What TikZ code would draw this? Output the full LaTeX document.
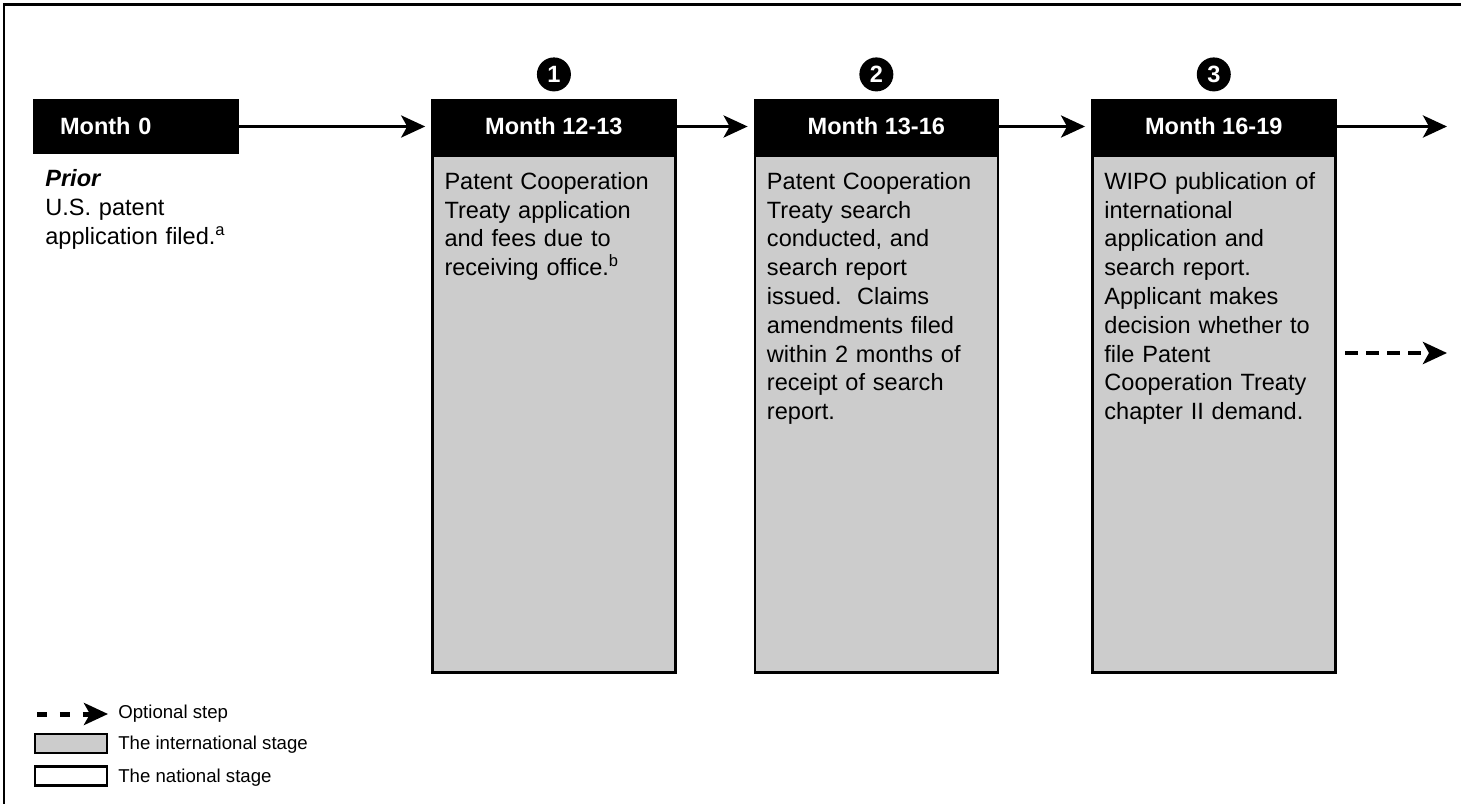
\documentclass[tikz,border=0pt]{standalone}
\usepackage{fontspec}
\setmainfont{Liberation Sans}
\usetikzlibrary{positioning,arrows.meta}
\definecolor{gra}{gray}{0.8}
\newcommand{\boxfont}{\fontsize{13.4}{16.4}\selectfont}
\newcommand{\legfont}{\fontsize{10.6}{12.7}\selectfont}

\tikzset{
  hdr/.style={draw, line width=0.05cm, fill=black, text=white, font=\boxfont\bfseries, minimum width=4.86cm, minimum height=1.06cm, inner sep=0},
  bodybox/.style={draw, line width=0.05cm, fill=gra, minimum width=4.86cm, minimum height=10.34cm, inner sep=0},
  txt/.style={anchor=base west, font=\boxfont, text width=4.6cm, align=left, inner sep=0},
  num/.style={circle, fill=black, text=white, font=\boxfont\bfseries, minimum size=0.68cm, inner sep=0},
  conn/.style={line width=0.07cm, -{Stealth[length=0.48cm, width=0.44cm, inset=0.12cm]}, shorten >=0.12cm},
  optconn/.style={line width=0.1cm, dash pattern=on 0.26cm off 0.16cm, -{Stealth[length=0.48cm, width=0.44cm, inset=0.12cm]}},
  legbox/.style={draw, line width=0.05cm, minimum width=1.44cm, minimum height=0.38cm, inner sep=0},
  legtxt/.style={anchor=west, font=\legfont, inner sep=0}
}

\begin{document}
\begin{tikzpicture}[x=0.02cm, y=-0.02cm]
\useasboundingbox (0,0) rectangle (1461,804);
\draw[line width=0.06cm] (1461,5) -- (4,5) -- (4,804);

\node[hdr, minimum width=4.08cm, text width=3.04cm, align=left, inner xsep=0.52cm] (h0) at (136,126.5) {Month 0};
\node[hdr, right=3.84cm of h0] (h1) {Month 12-13};
\node[hdr, right=1.54cm of h1] (h2) {Month 13-16};
\node[hdr, right=1.84cm of h2] (h3) {Month 16-19};

\node[bodybox, below=0pt of h1] (b1) {};
\node[bodybox, below=0pt of h2] (b2) {};
\node[bodybox, below=0pt of h3] (b3) {};
\draw[line width=0.05cm] (h1.south west) -- (h1.south east);
\draw[line width=0.05cm] (h2.south west) -- (h2.south east);
\draw[line width=0.05cm] (h3.south west) -- (h3.south east);

\node[num, above=0.14cm of h1] (n1) {1};
\node[num, above=0.14cm of h2] (n2) {2};
\node[num, above=0.14cm of h3] (n3) {3};

\node[txt] (t0) at (45,187) {\textbf{\textit{Prior}}\\U.S. patent\\application filed.\textsuperscript{a}};
\node[txt] (t1) at ([shift={(13,35)}]b1.north west) {Patent Cooperation\\Treaty application\\and fees due to\\receiving office.\textsuperscript{b}};
\node[txt] (t2) at ([shift={(13,35)}]b2.north west) {Patent Cooperation\\Treaty search\\conducted, and\\search report\\issued.\ \ Claims\\amendments filed\\within 2 months of\\receipt of search\\report.};
\node[txt] (t3) at ([shift={(13,35)}]b3.north west) {WIPO publication of\\international\\application and\\search report.\\Applicant makes\\decision whether to\\file Patent\\Cooperation Treaty\\chapter II demand.};

\coordinate (e3) at (1447,126.5);
\coordinate (d0) at (1345,353);
\coordinate (d1) at (1447,353);
\draw[conn] (h0) -- (h1);
\draw[conn] (h1) -- (h2);
\draw[conn] (h2) -- (h3);
\draw[conn, shorten >=0pt] (h3) -- (e3);
\draw[optconn] (d0) -- (d1);

\coordinate (l0) at (37,714);
\coordinate (l1) at (108,714);
\draw[optconn, dash pattern=on 0.2cm off 0.26cm] (l0) -- (l1);
\node[legtxt] (lt0) at (118,714) {Optional step};
\node[legbox, fill=gra] (lg1) at (71,743.5) {};
\node[legtxt] (lt1) at (118,745) {The international stage};
\node[legbox, fill=white] (lg2) at (71,776) {};
\node[legtxt] (lt2) at (118,778) {The national stage};
\end{tikzpicture}
\end{document}
